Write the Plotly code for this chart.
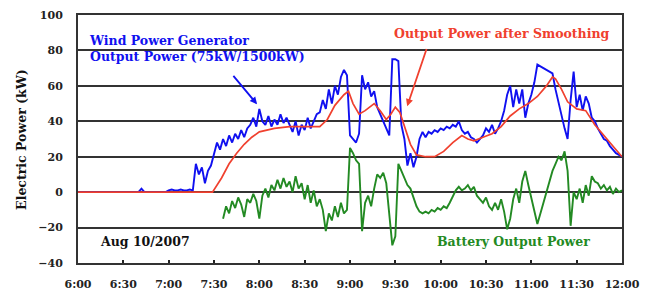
import pandas as pd
import plotly.graph_objects as go

DAY = "2007-08-10 "

# Sampling grid for the measured series (every 2 minutes, 6:00 -> 12:00)
grid_times = pd.date_range(DAY + "06:00", DAY + "12:00", freq="2min")

# Wind power generator output (kW), one value per grid time
wind_power = (
    [0] * 21 + [2, 0] + [0] * 7 + [1, 1.5, 1, 1, 1.5, 1, 1, 1.5, 1]
    + [16, 10, 14, 5, 12, 15, 22, 28, 24, 30,
       26, 32, 28, 33, 30, 35, 31, 36, 38, 42,
       37, 47, 40, 38, 43, 37, 41, 38, 44, 39,
       42, 38, 34, 40, 32, 38, 35, 42, 36, 40,
       44]
    + [45, 52, 47, 58, 50, 60, 55, 65, 69, 66,
       32, 30, 28, 33, 66, 58, 62, 54, 57, 48,
       44, 40, 35, 32, 75, 75, 74, 38, 30, 15,
       22, 14, 20, 30, 34, 31, 34, 33, 35, 34,
       36, 35, 37, 36, 38, 37, 40, 35, 33, 34,
       31, 30, 28, 30, 32, 36, 34, 38, 33, 36,
       40, 46, 55, 60, 48, 58, 50, 58, 42, 50,
       55, 62, 72, 71, 70, 69, 68, 67, 58, 50,
       43, 36, 30, 52, 68, 48, 55, 46, 54, 50,
       42, 40, 36, 33, 30, 29, 26, 24, 22, 21,
       20]
)

# Battery output power (kW), starts at 7:36
battery_power = (
    [None] * 48
    + [-15, -8, -12, -5, -9, -3, -7, -14, -4, -6,
       -1, -5, -15, -2, 2, -3, 4, 1, 7, 2,
       8, 3, 6, 0, 9, 2, 5, -4, 4, -6,
       1, -8, -4, -10, -22, -12, -16, -8, -14, -6,
       -12, -10, 25, 22, 18, 16, -22, -6, -2, -8,
       2, 10, 8, 11, 5, -12, -30, -25, 16, 12,
       8, 4, 2, -3, -8, -11, -12, -11, -12, -10,
       -11, -9, -10, -8, -9, -6, -2, 1, 3, 1,
       2, 4, 1, 3, -2, -4, -6, -3, -8, -10,
       -6, -10, -4, -11, -21, -15, -4, 2, -6, 6,
       12, 4, -4, -12, -18, -12, -6, 0, 6, 12,
       16, 20, 18, 23, 12, -19, 0, -4, 2, -6,
       4, -2, 9, 6, 5, 2, 4, 1, 3, -1,
       2, 0, 1]
)

# Output power after smoothing (kW)
smooth_times = ["06:00", "07:29", "07:35", "07:40", "07:45", "07:50", "07:55", "08:00",
                "08:10", "08:20", "08:30", "08:40", "08:45", "08:50", "08:56", "08:59",
                "09:02", "09:06", "09:10", "09:16", "09:20", "09:24", "09:27", "09:30",
                "09:33", "09:36", "09:40", "09:44", "09:50", "09:56", "10:02", "10:08",
                "10:14", "10:18", "10:22", "10:28", "10:34", "10:40", "10:46", "10:52",
                "10:58", "11:04", "11:10", "11:14", "11:16", "11:20", "11:24", "11:30",
                "11:36", "11:42", "11:48", "11:54", "12:00"]
smooth_power = [0, 0, 8, 16, 22, 27, 31, 34,
                36, 37, 37, 37, 41, 49, 55, 57,
                50, 44, 46, 50, 46, 41, 44, 48,
                45, 37, 27, 21, 20, 20, 23, 28,
                32, 30, 29, 31, 33, 37, 43, 47,
                50, 54, 60, 65, 64, 58, 51, 47,
                46, 38, 32, 26, 20]

x_tick_labels = ["6:00", "6:30", "7:00", "7:30", "8:00", "8:30", "9:00", "9:30",
                 "10:00", "10:30", "11:00", "11:30", "12:00"]
x_tick_times = pd.date_range(DAY + "06:00", DAY + "12:00", freq="30min")

BLUE = "#1010f0"
RED = "#f0402e"
GREEN = "#238a23"
FONT = "DejaVu Serif"

fig = go.Figure()
fig.add_trace(go.Scatter(x=grid_times, y=battery_power, mode="lines",
                         line=dict(color=GREEN, width=1.9), connectgaps=False))
fig.add_trace(go.Scatter(x=grid_times, y=wind_power, mode="lines",
                         line=dict(color=BLUE, width=1.9)))
fig.add_trace(go.Scatter(x=[DAY + t for t in smooth_times], y=smooth_power, mode="lines",
                         line=dict(color=RED, width=1.7)))

# the page body adds an 8 px offset, so the figure is 8 px smaller and margins shifted
fig.update_layout(
    width=642, height=288,
    margin=dict(l=70, r=28, t=7, b=33, autoexpand=False),
    paper_bgcolor="white", plot_bgcolor="white",
    showlegend=False,
    xaxis=dict(
        range=[DAY + "06:00", DAY + "12:00"],
        tickvals=list(x_tick_times), ticktext=x_tick_labels,
        showgrid=False, zeroline=False, automargin=False,
        ticks="inside", ticklen=3, tickwidth=1.5, tickcolor="#222",
        showline=True, mirror=True, linecolor="#333", linewidth=2,
        ticklabelstandoff=10,
        tickfont=dict(family=FONT, size=11, color="#222", weight="bold"),
    ),
    yaxis=dict(
        range=[-40, 100], dtick=20,
        showgrid=True, gridcolor="#333", gridwidth=2,
        zeroline=False, ticks="", automargin=False,
        showline=True, mirror=True, linecolor="#333", linewidth=2,
        ticklabelstandoff=11,
        tickfont=dict(family=FONT, size=11, color="#222", weight="bold"),
    ),
)

ann_font = dict(family=FONT, size=12.5, weight="bold")
fig.add_annotation(text="Electric Power (kW)", xref="paper", yref="paper",
                   x=-0.105, y=0.5, xanchor="center", yanchor="middle",
                   textangle=-90, showarrow=False,
                   font=dict(family=FONT, size=12.5, color="#111", weight="bold"))
fig.add_annotation(text="Wind Power Generator<br>Output Power (75kW/1500kW)",
                   xref="paper", yref="paper", x=0.0165, y=0.863,
                   xanchor="left", yanchor="middle", align="left", showarrow=False,
                   font=dict(color=BLUE, **ann_font))
fig.add_annotation(text="Output Power after Smoothing", xref="paper", yref="paper",
                   x=0.982, y=0.927, xanchor="right", yanchor="middle", showarrow=False,
                   font=dict(color=RED, **ann_font))
fig.add_annotation(text="Battery Output Power", xref="paper", yref="paper",
                   x=0.656, y=0.085, xanchor="left", yanchor="middle", showarrow=False,
                   font=dict(color=GREEN, **ann_font))
fig.add_annotation(text="Aug 10/2007", xref="paper", yref="paper",
                   x=0.037, y=0.085, xanchor="left", yanchor="middle", showarrow=False,
                   font=dict(color="#111", **ann_font))
# pointer arrows
fig.add_annotation(text="", x=DAY + "07:58:30", y=49.6, ax=DAY + "07:42", ay=66.5,
                   xref="x", yref="y", axref="x", ayref="y", showarrow=True,
                   arrowhead=2, arrowsize=0.8, arrowwidth=1.8, arrowcolor=BLUE)
fig.add_annotation(text="", x=DAY + "09:37:50", y=48.5, ax=DAY + "09:51", ay=81.7,
                   xref="x", yref="y", axref="x", ayref="y", showarrow=True,
                   arrowhead=2, arrowsize=0.8, arrowwidth=1.8, arrowcolor=RED)

fig.write_html("out.html")
